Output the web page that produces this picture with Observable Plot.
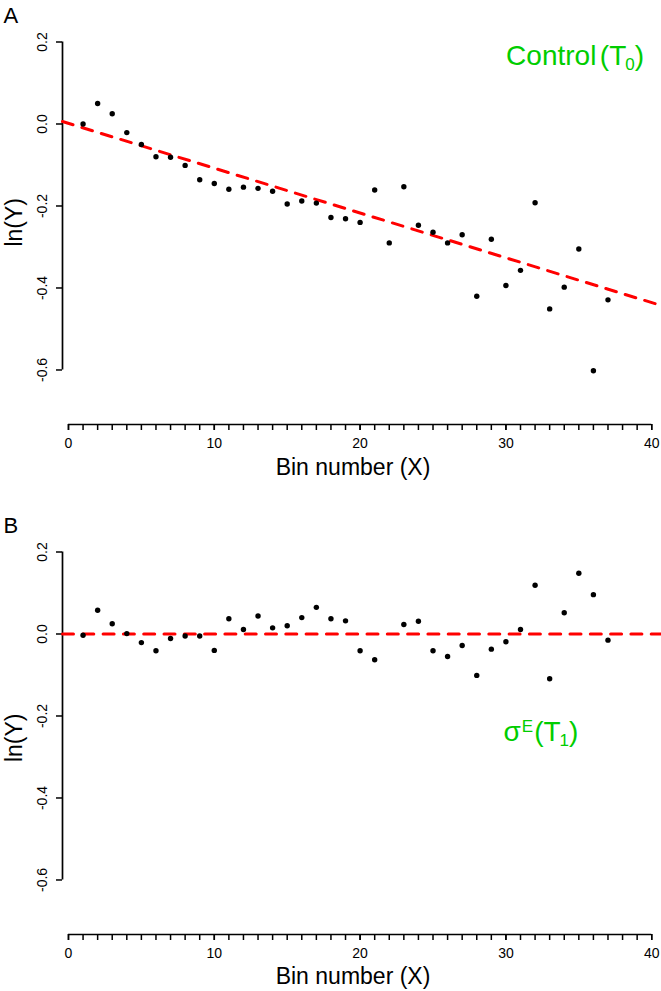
<!DOCTYPE html>
<html>
<head>
<meta charset="utf-8">
<script src="https://cdn.jsdelivr.net/npm/d3@7"></script>
<script src="https://cdn.jsdelivr.net/npm/@observablehq/plot@0.6"></script>
<style>
  html, body { margin: 0; padding: 0; background: #fff; }
  #chart { width: 661px; }
  #chart svg { display: block; }
</style>
</head>
<body>
<div id="chart"></div>
<script>
// ---------- data ----------
// Panel A: Control (T0)
const binsA = [1, 2, 3, 4, 5, 6, 7, 8, 9, 10, 11, 12, 13, 14, 15, 16, 17, 18, 19, 20,
               21, 22, 23, 24, 25, 26, 27, 28, 29, 30, 31, 32, 33, 34, 35, 36, 37];
const lnYA = [0.000, 0.050, 0.025, -0.021, -0.050, -0.080, -0.081, -0.101, -0.136, -0.145,
              -0.159, -0.154, -0.157, -0.164, -0.195, -0.188, -0.193, -0.228, -0.231, -0.240,
              -0.161, -0.290, -0.153, -0.247, -0.264, -0.290, -0.270, -0.420, -0.281, -0.394,
              -0.357, -0.192, -0.451, -0.398, -0.305, -0.602, -0.429];
const fitA = { intercept: 0.0015, slope: -0.01093 };

// Panel B: sigma^E (T1)  (bin 22 absent)
const binsB = [1, 2, 3, 4, 5, 6, 7, 8, 9, 10, 11, 12, 13, 14, 15, 16, 17, 18, 19, 20,
               21, 23, 24, 25, 26, 27, 28, 29, 30, 31, 32, 33, 34, 35, 36, 37];
const lnYB = [-0.003, 0.058, 0.025, 0.001, -0.021, -0.041, -0.011, -0.005, -0.005, -0.040,
              0.037, 0.011, 0.044, 0.015, 0.020, 0.040, 0.065, 0.037, 0.032, -0.041,
              -0.063, 0.023, 0.031, -0.041, -0.055, -0.028, -0.101, -0.037, -0.019, 0.011,
              0.119, -0.109, 0.052, 0.148, 0.096, -0.015];
const fitB = { intercept: 0, slope: 0 };

// axes
const yTicks = [0.2, 0.0, -0.2, -0.4, -0.6];
const yTickLabels = ["0.2", "0.0", "-0.2", "-0.4", "-0.6"];
const xLabelTicks = [0, 10, 20, 30, 40];
const xMinorTicks = [0, 1, 2, 3, 4, 5, 6, 7, 8, 9, 10, 11, 12, 13, 14, 15, 16, 17, 18, 19, 20,
                     21, 22, 23, 24, 25, 26, 27, 28, 29, 30, 31, 32, 33, 34, 35, 36, 37, 38, 39, 40];
const xTitle = "Bin number (X)";
const yTitle = "ln(Y)";

// ---------- drawing ----------
const GREEN = "#00cd00";
const FONT = "'Liberation Sans', Arial, Helvetica, sans-serif";

function richText(svg, plain, parts) {
  const ns = "http://www.w3.org/2000/svg";
  svg.querySelectorAll("text").forEach(t => {
    if (t.textContent !== plain) return;
    t.textContent = "";
    for (const p of parts) {
      const s = document.createElementNS(ns, "tspan");
      s.textContent = p.t;
      if (p.size) s.setAttribute("font-size", p.size);
      if (p.dx) s.setAttribute("dx", p.dx);
      if (p.dy) s.setAttribute("dy", p.dy);
      t.appendChild(s);
    }
  });
}

function panel({ letter, xs, ys, fit, note, noteParts, noteDx, noteDy, height, marginBottom, titleDy, yTitleDy }) {
  const xDomain = [-0.41, 40.67];
  const yDomain = [-0.733, 0.2];
  const lineData = xDomain.map(x => ({ x, y: fit.intercept + fit.slope * x }));
  const pts = xs.map((x, i) => ({ x, y: ys[i] }));
  const svg = Plot.plot({
    width: 661,
    height,
    marginLeft: 62,
    marginRight: 0,
    marginTop: 41.5,
    marginBottom,
    x: { domain: xDomain },
    y: { domain: yDomain },
    style: { fontFamily: FONT, fontSize: "14px", color: "#000", background: "#fff", overflow: "visible" },
    marks: [
      // y axis line, ticks and rotated labels
      Plot.ruleX([xDomain[0]], { y1: yTicks[yTicks.length - 1], y2: yTicks[0], strokeWidth: 1.7 }),
      Plot.axisY({ ticks: yTicks, tickSize: 6, fill: "none", label: null, strokeWidth: 1.5 }),
      Plot.text(yTicks, { x: xDomain[0], y: d => d, text: (d, i) => yTickLabels[i], rotate: -90, dx: -20, fontSize: 14 }),
      // x axis line, ticks and labels
      Plot.ruleY([yDomain[0]], { x1: 0, x2: 40, strokeWidth: 1.7 }),
      Plot.axisX({ ticks: xMinorTicks, tickSize: 6, fill: "none", label: null, strokeWidth: 1.5 }),
      Plot.axisX({ ticks: xLabelTicks, tickSize: 6, tickPadding: 8, label: null, strokeWidth: 1.5, fontSize: 14 }),
      // fit line
      Plot.line(lineData, { x: "x", y: "y", stroke: "#ff0000", strokeWidth: 3, strokeDasharray: "11,9.3" }),
      // points
      Plot.dot(pts, { x: "x", y: "y", r: 2.7, fill: "#000", stroke: "none" }),
      // titles
      Plot.text([yTitle], { frameAnchor: "left", textAnchor: "middle", lineAnchor: "middle", dx: -48, dy: yTitleDy, rotate: -90, fontSize: 23 }),
      Plot.text([xTitle], { frameAnchor: "bottom", textAnchor: "middle", lineAnchor: "middle", dx: -9, dy: titleDy, fontSize: 23 }),
      Plot.text([letter], { frameAnchor: "top-left", textAnchor: "start", lineAnchor: "middle", dx: -59, dy: -26.5, fontSize: 22 }),
      Plot.text([note], { frameAnchor: "top-left", textAnchor: "start", lineAnchor: "middle", dx: noteDx, dy: noteDy, fontSize: 28, fill: GREEN })
    ]
  });
  richText(svg, note, noteParts);
  return svg;
}

const chart = document.getElementById("chart");
chart.appendChild(panel({
  letter: "A", xs: binsA, ys: lnYA, fit: fitA,
  note: "Control (T0)",
  noteParts: [{ t: "Control" }, { t: "(T", dx: 3.5 }, { t: "0", size: 17, dx: -1, dy: 5.5 }, { t: ")", size: 28, dy: -5.5 }],
  noteDx: 443.6, noteDy: 14,
  height: 510, marginBottom: 86, titleDy: 43.5, yTitleDy: -11
}));
chart.appendChild(panel({
  letter: "B", xs: binsB, ys: lnYB, fit: fitB,
  note: "σE(T1)",
  noteParts: [{ t: "σ" }, { t: "E", size: 17, dx: 1, dy: -9 }, { t: "(T", size: 28, dx: 1, dy: 9 }, { t: "1", size: 17, dx: -1, dy: 5 }, { t: ")", size: 28, dy: -5 }],
  noteDx: 441, noteDy: 180.5,
  height: 481, marginBottom: 57, titleDy: 42, yTitleDy: -5.5
}));
</script>
</body>
</html>
